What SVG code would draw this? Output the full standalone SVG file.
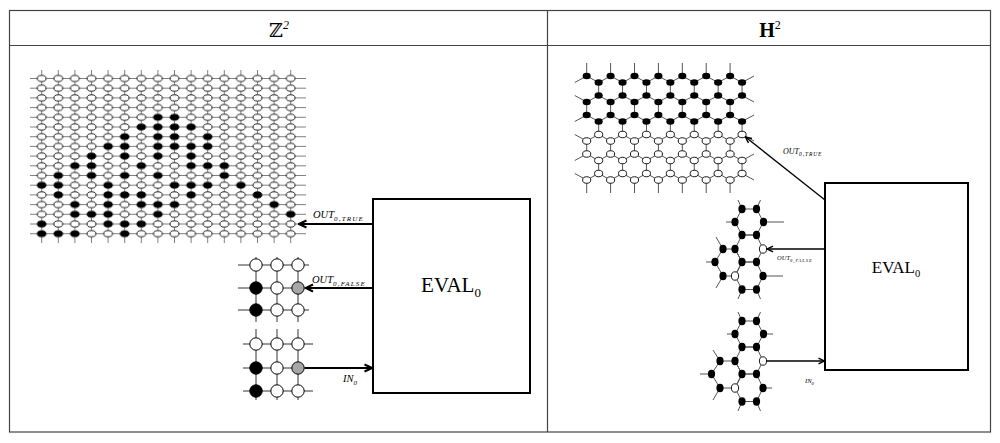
<svg xmlns="http://www.w3.org/2000/svg" width="1000" height="443" viewBox="0 0 1000 443">
<style>
.tbl{fill:none;stroke:#444;stroke-width:1.2}
.gl{stroke:#808080;stroke-width:1;fill:none}
.sg{stroke:#333;stroke-width:1;fill:none}
.hl{stroke:#555;stroke-width:1;fill:none;vector-effect:non-scaling-stroke}
.hs{stroke:#555;stroke-width:1;fill:none}
.box{fill:#fff;stroke:#000;stroke-width:2}
.arr{stroke:#000;stroke-width:2;fill:none;marker-end:url(#ah)}
.arr2{stroke:#000;stroke-width:1.3;fill:none;marker-end:url(#ah2)}
.lbl{font-family:"Liberation Serif",serif;font-style:italic;fill:#000}
.ev{font-family:"Liberation Serif",serif;fill:#000}
.W{fill:#fff;stroke:#000;stroke-width:1}
.B{fill:#000;stroke:#000;stroke-width:1}
.G{fill:#a6a6a6;stroke:#000;stroke-width:1}
</style>
<defs>
<pattern id="pw" patternUnits="userSpaceOnUse" x="33.4" y="73.65" width="16.6" height="9.7">
<ellipse cx="8.3" cy="4.85" rx="4.4" ry="3.1" fill="#fff" stroke="#000" stroke-width="0.9"/>
</pattern>
<ellipse id="gb" rx="0.26" ry="0.315" fill="#000"/>
<ellipse id="hb" rx="0.34" ry="0.5" fill="#000"/>
<ellipse id="hw" rx="0.34" ry="0.5" fill="#fff" stroke="#000" stroke-width="0.9" vector-effect="non-scaling-stroke"/>
<ellipse id="sb" rx="3.6" ry="4.2" fill="#000"/>
<ellipse id="sw" rx="3.6" ry="4.2" fill="#fff" stroke="#000" stroke-width="0.9"/>
<marker id="ah" viewBox="0 0 10 10" refX="9" refY="5" markerWidth="10" markerHeight="10" markerUnits="userSpaceOnUse" orient="auto">
<path d="M1.5 1.5L9 5L1.5 8.5" fill="none" stroke="#000" stroke-width="2"/>
</marker>
<marker id="ah2" viewBox="0 0 10 10" refX="9" refY="5" markerWidth="8" markerHeight="8" markerUnits="userSpaceOnUse" orient="auto">
<path d="M1.5 1.5L9 5L1.5 8.5" fill="none" stroke="#000" stroke-width="1.8"/>
</marker>
</defs>

<g id="table">
<rect class="tbl" x="9.5" y="10.5" width="981" height="421.5"/>
<path class="tbl" d="M9.5 45.5H990.5M547.5 10.5V432"/>
<text x="279" y="37" text-anchor="middle" font-family="DejaVu Serif,serif" font-size="19">ℤ<tspan font-family="Liberation Serif,serif" font-style="italic" font-size="12" dy="-8">2</tspan></text>
<text x="770" y="37" text-anchor="middle" font-family="Liberation Serif,serif" font-size="20" font-weight="bold">H<tspan font-weight="normal" font-size="12" dy="-8">2</tspan></text>
</g>

<g id="grid-z2">
<path class="gl" d="M41.7 70V243M58.3 70V243M74.9 70V243M91.5 70V243M108.1 70V243M124.7 70V243M141.3 70V243M157.9 70V243M174.5 70V243M191.1 70V243M207.7 70V243M224.3 70V243M240.9 70V243M257.5 70V243M274.1 70V243M290.7 70V243M30 78.5H306M30 88.2H306M30 97.9H306M30 107.6H306M30 117.3H306M30 127H306M30 136.7H306M30 146.4H306M30 156.1H306M30 165.8H306M30 175.5H306M30 185.2H306M30 194.9H306M30 204.6H306M30 214.3H306M30 224H306M30 233.7H306"/>
<rect x="33.4" y="73.65" width="265.6" height="164.9" fill="url(#pw)"/>
<g transform="matrix(16.6 0 0 9.7 41.7 78.5)">
<use href="#gb" x="7" y="4"/><use href="#gb" x="8" y="4"/>
<use href="#gb" x="6" y="5"/><use href="#gb" x="7" y="5"/><use href="#gb" x="8" y="5"/><use href="#gb" x="9" y="5"/>
<use href="#gb" x="5" y="6"/><use href="#gb" x="7" y="6"/><use href="#gb" x="8" y="6"/><use href="#gb" x="10" y="6"/>
<use href="#gb" x="4" y="7"/><use href="#gb" x="5" y="7"/><use href="#gb" x="7" y="7"/><use href="#gb" x="8" y="7"/><use href="#gb" x="9" y="7"/><use href="#gb" x="10" y="7"/>
<use href="#gb" x="3" y="8"/><use href="#gb" x="5" y="8"/><use href="#gb" x="7" y="8"/><use href="#gb" x="9" y="8"/>
<use href="#gb" x="2" y="9"/><use href="#gb" x="3" y="9"/><use href="#gb" x="6" y="9"/><use href="#gb" x="9" y="9"/><use href="#gb" x="10" y="9"/><use href="#gb" x="11" y="9"/>
<use href="#gb" x="1" y="10"/><use href="#gb" x="3" y="10"/><use href="#gb" x="5" y="10"/><use href="#gb" x="7" y="10"/><use href="#gb" x="11" y="10"/>
<use href="#gb" x="0" y="11"/><use href="#gb" x="1" y="11"/><use href="#gb" x="4" y="11"/><use href="#gb" x="8" y="11"/><use href="#gb" x="9" y="11"/><use href="#gb" x="10" y="11"/><use href="#gb" x="12" y="11"/>
<use href="#gb" x="1" y="12"/><use href="#gb" x="4" y="12"/><use href="#gb" x="5" y="12"/><use href="#gb" x="6" y="12"/><use href="#gb" x="9" y="12"/><use href="#gb" x="13" y="12"/>
<use href="#gb" x="2" y="13"/><use href="#gb" x="4" y="13"/><use href="#gb" x="6" y="13"/><use href="#gb" x="7" y="13"/><use href="#gb" x="8" y="13"/><use href="#gb" x="14" y="13"/>
<use href="#gb" x="2" y="14"/><use href="#gb" x="3" y="14"/><use href="#gb" x="4" y="14"/><use href="#gb" x="7" y="14"/><use href="#gb" x="15" y="14"/>
<use href="#gb" x="0" y="15"/><use href="#gb" x="4" y="15"/><use href="#gb" x="5" y="15"/><use href="#gb" x="6" y="15"/>
<use href="#gb" x="0" y="16"/><use href="#gb" x="1" y="16"/><use href="#gb" x="2" y="16"/><use href="#gb" x="5" y="16"/>
</g>
</g>

<g id="small-grid-out">
<path class="sg" d="M256 257V322M277 257V322M298 257V322M238 265H309M238 288H305M238 310H309"/>
<circle class="W" cx="256" cy="265" r="6.2"/><circle class="W" cx="277" cy="265" r="6.2"/><circle class="W" cx="298" cy="265" r="6.2"/>
<circle class="B" cx="256" cy="288" r="6.2"/><circle class="W" cx="277" cy="288" r="6.2"/><circle class="G" cx="298" cy="288" r="6.2"/>
<circle class="B" cx="256" cy="310" r="6.2"/><circle class="W" cx="277" cy="310" r="6.2"/><circle class="W" cx="298" cy="310" r="6.2"/>
</g>

<g id="small-grid-in">
<path class="sg" d="M256 329V400M277 329V400M298 329V400M243 344H313M243 368H304M243 391H313"/>
<circle class="W" cx="256" cy="344" r="6.2"/><circle class="W" cx="277" cy="344" r="6.2"/><circle class="W" cx="298" cy="344" r="6.2"/>
<circle class="B" cx="256" cy="368" r="6.2"/><circle class="W" cx="277" cy="368" r="6.2"/><circle class="G" cx="298" cy="368" r="6.2"/>
<circle class="B" cx="256" cy="391" r="6.2"/><circle class="W" cx="277" cy="391" r="6.2"/><circle class="W" cx="298" cy="391" r="6.2"/>
</g>

<g id="eval-left">
<rect class="box" x="373" y="199" width="157" height="194"/>
<text class="ev" x="451" y="292" font-size="21" text-anchor="middle">EVAL<tspan font-size="13" dy="5">0</tspan></text>
</g>

<g id="hex-lattice" transform="matrix(11.95 0 0 6.5 586.7 76)">
<polyline class="hl" points="-1,1 0,0 1,1 2,0 3,1 4,0 5,1 6,0 7,1 8,0 9,1 10,0 11,1 12,0 13,1 14,0"/>
<polyline class="hl" points="-1,3 0,4 1,3 2,4 3,3 4,4 5,3 6,4 7,3 8,4 9,3 10,4 11,3 12,4 13,3 14,4"/>
<polyline class="hl" points="-1,7 0,6 1,7 2,6 3,7 4,6 5,7 6,6 7,7 8,6 9,7 10,6 11,7 12,6 13,7 14,6"/>
<polyline class="hl" points="-1,9 0,10 1,9 2,10 3,9 4,10 5,9 6,10 7,9 8,10 9,9 10,10 11,9 12,10 13,9 14,10"/>
<polyline class="hl" points="-1,13 0,12 1,13 2,12 3,13 4,12 5,13 6,12 7,13 8,12 9,13 10,12 11,13 12,12 13,13 14,12"/>
<polyline class="hl" points="-1,15 0,16 1,15 2,16 3,15 4,16 5,15 6,16 7,15 8,16 9,15 10,16 11,15 12,16 13,15 14,16"/>
<path class="hl" d="M0 0V-2M2 0V-2M4 0V-2M6 0V-2M8 0V-2M10 0V-2M12 0V-2M1 1V3M3 1V3M5 1V3M7 1V3M9 1V3M11 1V3M13 1V3M0 4V6M2 4V6M4 4V6M6 4V6M8 4V6M10 4V6M12 4V6M1 7V9M3 7V9M5 7V9M7 7V9M9 7V9M11 7V9M13 7V9M0 10V12M2 10V12M4 10V12M6 10V12M8 10V12M10 10V12M12 10V12M1 13V15M3 13V15M5 13V15M7 13V15M9 13V15M11 13V15M13 13V15M0 16V18M2 16V18M4 16V18M6 16V18M8 16V18M10 16V18M12 16V18"/>
<use href="#hb" x="0" y="0"/><use href="#hb" x="2" y="0"/><use href="#hb" x="4" y="0"/><use href="#hb" x="6" y="0"/><use href="#hb" x="8" y="0"/><use href="#hb" x="10" y="0"/><use href="#hb" x="12" y="0"/>
<use href="#hb" x="1" y="1"/><use href="#hb" x="3" y="1"/><use href="#hb" x="5" y="1"/><use href="#hb" x="7" y="1"/><use href="#hb" x="9" y="1"/><use href="#hb" x="11" y="1"/><use href="#hb" x="13" y="1"/>
<use href="#hb" x="1" y="3"/><use href="#hb" x="3" y="3"/><use href="#hb" x="5" y="3"/><use href="#hb" x="7" y="3"/><use href="#hb" x="9" y="3"/><use href="#hb" x="11" y="3"/><use href="#hb" x="13" y="3"/>
<use href="#hb" x="0" y="4"/><use href="#hb" x="2" y="4"/><use href="#hb" x="4" y="4"/><use href="#hb" x="6" y="4"/><use href="#hb" x="8" y="4"/><use href="#hb" x="10" y="4"/><use href="#hb" x="12" y="4"/>
<use href="#hb" x="0" y="6"/><use href="#hb" x="2" y="6"/><use href="#hb" x="4" y="6"/><use href="#hb" x="6" y="6"/><use href="#hb" x="8" y="6"/><use href="#hb" x="10" y="6"/><use href="#hb" x="12" y="6"/>
<use href="#hb" x="1" y="7"/><use href="#hb" x="3" y="7"/><use href="#hb" x="5" y="7"/><use href="#hb" x="7" y="7"/><use href="#hb" x="9" y="7"/><use href="#hb" x="11" y="7"/><use href="#hb" x="13" y="7"/>
<use href="#hw" x="1" y="9"/><use href="#hw" x="3" y="9"/><use href="#hw" x="5" y="9"/><use href="#hw" x="7" y="9"/><use href="#hw" x="9" y="9"/><use href="#hw" x="11" y="9"/><use href="#hw" x="13" y="9"/>
<use href="#hw" x="0" y="10"/><use href="#hw" x="2" y="10"/><use href="#hw" x="4" y="10"/><use href="#hw" x="6" y="10"/><use href="#hw" x="8" y="10"/><use href="#hw" x="10" y="10"/><use href="#hw" x="12" y="10"/>
<use href="#hw" x="0" y="12"/><use href="#hw" x="2" y="12"/><use href="#hw" x="4" y="12"/><use href="#hw" x="6" y="12"/><use href="#hw" x="8" y="12"/><use href="#hw" x="10" y="12"/><use href="#hw" x="12" y="12"/>
<use href="#hw" x="1" y="13"/><use href="#hw" x="3" y="13"/><use href="#hw" x="5" y="13"/><use href="#hw" x="7" y="13"/><use href="#hw" x="9" y="13"/><use href="#hw" x="11" y="13"/><use href="#hw" x="13" y="13"/>
<use href="#hw" x="1" y="15"/><use href="#hw" x="3" y="15"/><use href="#hw" x="5" y="15"/><use href="#hw" x="7" y="15"/><use href="#hw" x="9" y="15"/><use href="#hw" x="11" y="15"/><use href="#hw" x="13" y="15"/>
<use href="#hw" x="0" y="16"/><use href="#hw" x="2" y="16"/><use href="#hw" x="4" y="16"/><use href="#hw" x="6" y="16"/><use href="#hw" x="8" y="16"/><use href="#hw" x="10" y="16"/><use href="#hw" x="12" y="16"/>
</g>

<g id="hex-out">
<path class="hs" d="M742 209H756.5L763.5 222L756.5 235H742L735 222ZM742 235H756.5L763 249L756.5 262H742L735 249ZM742 262H756.5L763 276L756.5 289.5H742L735 276ZM723 249H735L742 262L735 276H723L715 262ZM742 209L738 200M756.5 209L760.5 200M735 222H726M763.5 222H784M723 249L716 237M715 262H706M723 276L716 288M763 276H783M742 289.5L738 299M756.5 289.5L760.5 299"/>
<use href="#sb" x="742" y="209"/><use href="#sb" x="756.5" y="209"/>
<use href="#sb" x="735" y="222"/><use href="#sb" x="763.5" y="222"/>
<use href="#sb" x="742" y="235"/><use href="#sb" x="756.5" y="235"/>
<use href="#sb" x="723" y="249"/><use href="#sb" x="735" y="249"/><use href="#sw" x="763" y="249"/>
<use href="#sb" x="715" y="262"/><use href="#sb" x="742" y="262"/><use href="#sb" x="756.5" y="262"/>
<use href="#sb" x="723" y="276"/><use href="#sw" x="735" y="276"/><use href="#sb" x="763" y="276"/>
<use href="#sb" x="742" y="289.5"/><use href="#sb" x="756.5" y="289.5"/>
</g>

<g id="hex-in">
<path class="hs" d="M742 321H756.5L763.5 334L756.5 347H742L735 334ZM742 347H756.5L763 361L756.5 374H742L735 361ZM742 374H756.5L763 388L756.5 401.5H742L735 388ZM720 361H735L742 374L735 388H720L711.5 374ZM742 321L738 312M756.5 321L760.5 312M735 334H727M763.5 334H773M720 361L713 350M711.5 374H700M720 388L713 400M763 388H772M742 401.5L738 411M756.5 401.5L760.5 411"/>
<use href="#sb" x="742" y="321"/><use href="#sb" x="756.5" y="321"/>
<use href="#sb" x="735" y="334"/><use href="#sb" x="763.5" y="334"/>
<use href="#sb" x="742" y="347"/><use href="#sb" x="756.5" y="347"/>
<use href="#sb" x="720" y="361"/><use href="#sb" x="735" y="361"/><use href="#sw" x="763" y="361"/>
<use href="#sb" x="711.5" y="374"/><use href="#sb" x="742" y="374"/><use href="#sb" x="756.5" y="374"/>
<use href="#sb" x="720" y="388"/><use href="#sw" x="735" y="388"/><use href="#sb" x="763" y="388"/>
<use href="#sb" x="742" y="401.5"/><use href="#sb" x="756.5" y="401.5"/>
</g>

<g id="eval-right">
<rect class="box" x="825" y="183" width="143" height="187"/>
<text class="ev" x="896" y="273" font-size="17" text-anchor="middle">EVAL<tspan font-size="10.5" dy="4">0</tspan></text>
</g>

<g id="connectors">
<path class="arr" d="M373 224H299"/>
<path class="arr" d="M373 288H305.5"/>
<path class="arr" d="M304.5 368H372"/>
<path class="arr2" d="M825 200L745.5 137"/>
<path class="arr2" d="M825 249H767"/>
<path class="arr2" d="M766.5 361H824.5"/>
<text class="lbl" x="313" y="218" font-size="10.5">OUT<tspan font-size="7" dy="3" letter-spacing="1.2">0,TRUE</tspan></text>
<text class="lbl" x="312" y="283" font-size="10.5">OUT<tspan font-size="7" dy="3" letter-spacing="1.2">0,FALSE</tspan></text>
<text class="lbl" x="343" y="382" font-size="10.5">IN<tspan font-size="7" dy="3">0</tspan></text>
<text class="lbl" x="783" y="154" font-size="8">OUT<tspan font-size="5.5" dy="2" letter-spacing="0.9">0,TRUE</tspan></text>
<text class="lbl" x="777" y="260" font-size="6.5">OUT<tspan font-size="4.5" dy="1.6" letter-spacing="1">0,FALSE</tspan></text>
<text class="lbl" x="805" y="383" font-size="6.5">IN<tspan font-size="4.5" dy="1.6">0</tspan></text>
</g>
</svg>
